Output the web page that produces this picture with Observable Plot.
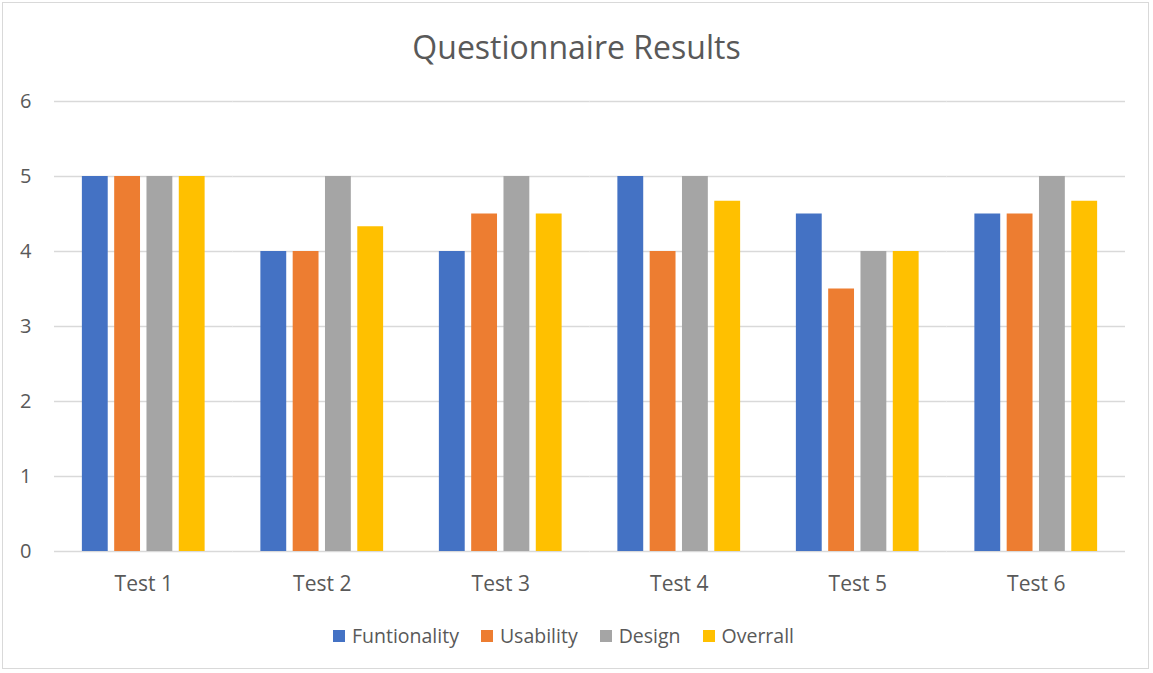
<!DOCTYPE html>
<html>
<head>
<meta charset="utf-8">
<script src="https://cdn.jsdelivr.net/npm/d3@7"></script>
<script src="https://cdn.jsdelivr.net/npm/@observablehq/plot@0.6"></script>
<style>
  html, body { margin: 0; padding: 0; background: #fff; }
  #wrap { position: relative; width: 1153px; height: 673px; overflow: hidden; font-family: "Open Sans", sans-serif; color: #595959; }
  #frame { position: absolute; left: 2px; top: 2px; width: 1147px; height: 667px; border: 1.5px solid #d9d9d9; box-sizing: border-box; }
  #title { position: absolute; left: 0; width: 1153px; top: 27px; text-align: center; font-size: 32px; line-height: 40px; }
  #chart { position: absolute; left: 0; top: 0; }
  #legend { position: absolute; left: -13px; width: 1153px; top: 623px; display: flex; justify-content: center; font-size: 19.5px; line-height: 26px; }
  .item { display: flex; align-items: center; margin: 0 11px; }
  .sw { width: 12px; height: 12px; margin-right: 7px; }
</style>
</head>
<body>
<div id="wrap">
  <div id="frame"></div>
  <div id="title">Questionnaire Results</div>
  <div id="chart"></div>
  <div id="legend"></div>
</div>
<script>
const tests = ["Test 1", "Test 2", "Test 3", "Test 4", "Test 5", "Test 6"];
const series = ["Funtionality", "Usability", "Design", "Overrall"];
const colors = ["#4472C4", "#ED7D31", "#A5A5A5", "#FFC000"];
const funtionality = [5, 4, 4, 5, 4.5, 4.5];
const usability = [5, 4, 4.5, 4, 3.5, 4.5];
const design = [5, 5, 5, 5, 4, 5];
const overrall = [5, 4.33, 4.5, 4.67, 4, 4.67];
const yTicks = [0, 1, 2, 3, 4, 5, 6];

const valuesBySeries = [funtionality, usability, design, overrall];
const data = [];
tests.forEach((t, i) => {
  series.forEach((s, j) => {
    data.push({ test: t, series: s, value: valuesBySeries[j][i] });
  });
});

const chart = Plot.plot({
  width: 1153,
  height: 600,
  marginTop: 101,
  marginBottom: 49,
  marginLeft: 54,
  marginRight: 28,
  style: { fontFamily: "'Open Sans', sans-serif", color: "#595959", background: "transparent", overflow: "visible" },
  fx: { domain: tests, paddingInner: 0, paddingOuter: 0, round: false, axis: null, label: null },
  x: { domain: series, paddingInner: 0.2, paddingOuter: 0.863, round: false, axis: null },
  y: { domain: [0, 6], axis: null },
  color: { domain: series, range: colors },
  marks: [
    Plot.ruleY(yTicks, { stroke: "#d9d9d9", strokeWidth: 1.4 }),
    Plot.barY(data, { fx: "test", x: "series", y: "value", fill: "series" }),
    Plot.axisFx({ anchor: "bottom", tickSize: 0, tickPadding: 25, fontSize: 21, label: null }),
    Plot.axisY(yTicks, { anchor: "left", tickSize: 0, tickPadding: 23, fontSize: 20, tickFormat: d3.format("d"), label: null })
  ]
});
document.getElementById("chart").appendChild(chart);

const legend = document.getElementById("legend");
series.forEach((s, j) => {
  const item = document.createElement("div");
  item.className = "item";
  const sw = document.createElement("div");
  sw.className = "sw";
  sw.style.background = colors[j];
  const label = document.createElement("span");
  label.textContent = s;
  item.appendChild(sw);
  item.appendChild(label);
  legend.appendChild(item);
});
</script>
</body>
</html>
